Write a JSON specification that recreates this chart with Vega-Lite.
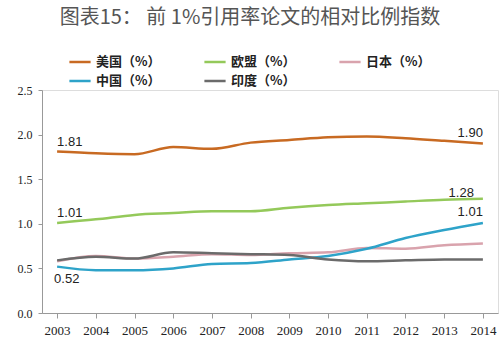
{
  "$schema": "https://vega.github.io/schema/vega-lite/v6.json",
  "autosize": {"type": "none"},
  "width": 456,
  "height": 223,
  "padding": {"left": 42, "top": 90, "right": 2, "bottom": 31},
  "background": "white",
  "title": {
    "text": "图表15：  前 1%引用率论文的相对比例指数",
    "font": "Noto Sans CJK SC",
    "fontSize": 20,
    "fontWeight": "normal",
    "color": "#555555",
    "anchor": "middle",
    "frame": "group",
    "dx": -20,
    "offset": 22
  },
  "data": {
    "values": [
      {"year": "2003", "country": "美国（%）", "value": 1.81},
      {"year": "2004", "country": "美国（%）", "value": 1.79},
      {"year": "2005", "country": "美国（%）", "value": 1.78},
      {"year": "2006", "country": "美国（%）", "value": 1.86},
      {"year": "2007", "country": "美国（%）", "value": 1.84},
      {"year": "2008", "country": "美国（%）", "value": 1.91},
      {"year": "2009", "country": "美国（%）", "value": 1.94},
      {"year": "2010", "country": "美国（%）", "value": 1.97},
      {"year": "2011", "country": "美国（%）", "value": 1.98},
      {"year": "2012", "country": "美国（%）", "value": 1.96},
      {"year": "2013", "country": "美国（%）", "value": 1.93},
      {"year": "2014", "country": "美国（%）", "value": 1.90},
      {"year": "2003", "country": "欧盟（%）", "value": 1.01},
      {"year": "2004", "country": "欧盟（%）", "value": 1.05},
      {"year": "2005", "country": "欧盟（%）", "value": 1.10},
      {"year": "2006", "country": "欧盟（%）", "value": 1.12},
      {"year": "2007", "country": "欧盟（%）", "value": 1.14},
      {"year": "2008", "country": "欧盟（%）", "value": 1.14},
      {"year": "2009", "country": "欧盟（%）", "value": 1.18},
      {"year": "2010", "country": "欧盟（%）", "value": 1.21},
      {"year": "2011", "country": "欧盟（%）", "value": 1.23},
      {"year": "2012", "country": "欧盟（%）", "value": 1.25},
      {"year": "2013", "country": "欧盟（%）", "value": 1.27},
      {"year": "2014", "country": "欧盟（%）", "value": 1.28},
      {"year": "2003", "country": "日本（%）", "value": 0.58},
      {"year": "2004", "country": "日本（%）", "value": 0.64},
      {"year": "2005", "country": "日本（%）", "value": 0.61},
      {"year": "2006", "country": "日本（%）", "value": 0.63},
      {"year": "2007", "country": "日本（%）", "value": 0.66},
      {"year": "2008", "country": "日本（%）", "value": 0.65},
      {"year": "2009", "country": "日本（%）", "value": 0.67},
      {"year": "2010", "country": "日本（%）", "value": 0.68},
      {"year": "2011", "country": "日本（%）", "value": 0.73},
      {"year": "2012", "country": "日本（%）", "value": 0.72},
      {"year": "2013", "country": "日本（%）", "value": 0.76},
      {"year": "2014", "country": "日本（%）", "value": 0.78},
      {"year": "2003", "country": "中国（%）", "value": 0.52},
      {"year": "2004", "country": "中国（%）", "value": 0.48},
      {"year": "2005", "country": "中国（%）", "value": 0.48},
      {"year": "2006", "country": "中国（%）", "value": 0.50},
      {"year": "2007", "country": "中国（%）", "value": 0.55},
      {"year": "2008", "country": "中国（%）", "value": 0.56},
      {"year": "2009", "country": "中国（%）", "value": 0.60},
      {"year": "2010", "country": "中国（%）", "value": 0.64},
      {"year": "2011", "country": "中国（%）", "value": 0.72},
      {"year": "2012", "country": "中国（%）", "value": 0.84},
      {"year": "2013", "country": "中国（%）", "value": 0.93},
      {"year": "2014", "country": "中国（%）", "value": 1.01},
      {"year": "2003", "country": "印度（%）", "value": 0.59},
      {"year": "2004", "country": "印度（%）", "value": 0.63},
      {"year": "2005", "country": "印度（%）", "value": 0.61},
      {"year": "2006", "country": "印度（%）", "value": 0.68},
      {"year": "2007", "country": "印度（%）", "value": 0.67},
      {"year": "2008", "country": "印度（%）", "value": 0.66},
      {"year": "2009", "country": "印度（%）", "value": 0.65},
      {"year": "2010", "country": "印度（%）", "value": 0.60},
      {"year": "2011", "country": "印度（%）", "value": 0.58},
      {"year": "2012", "country": "印度（%）", "value": 0.59},
      {"year": "2013", "country": "印度（%）", "value": 0.60},
      {"year": "2014", "country": "印度（%）", "value": 0.60}
    ]
  },
  "encoding": {
    "x": {
      "field": "year",
      "type": "ordinal",
      "scale": {"type": "point", "padding": 0.39},
      "axis": {
        "title": null,
        "labelAngle": 0,
        "labelFont": "Liberation Serif",
        "labelFontSize": 13,
        "labelColor": "#222222",
        "labelPadding": 6,
        "domainColor": "#999999",
        "tickColor": "#999999",
        "tickSize": 5,
        "grid": false
      }
    },
    "y": {
      "field": "value",
      "type": "quantitative",
      "scale": {"domain": [0, 2.5]},
      "axis": {
        "title": null,
        "values": [0, 0.5, 1, 1.5, 2, 2.5],
        "format": ".1f",
        "labelFont": "Liberation Serif",
        "labelFontSize": 12,
        "labelColor": "#222222",
        "labelPadding": 6,
        "domainColor": "#999999",
        "tickColor": "#999999",
        "tickSize": 4,
        "grid": false
      }
    }
  },
  "layer": [
    {
      "mark": {"type": "line", "interpolate": "monotone", "strokeWidth": 2.5},
      "encoding": {
        "color": {
          "field": "country",
          "type": "nominal",
          "scale": {
            "domain": ["美国（%）", "欧盟（%）", "日本（%）", "中国（%）", "印度（%）"],
            "range": ["#c86a22", "#94c95a", "#d9a3ad", "#2ea3c9", "#6b6b6b"]
          },
          "legend": {
            "title": null,
            "orient": "none",
            "legendX": 26,
            "legendY": -40,
            "direction": "horizontal",
            "columns": 3,
            "columnPadding": 38,
            "rowPadding": 0,
            "symbolType": "stroke",
            "symbolSize": 450,
            "symbolStrokeWidth": 2.5,
            "labelFont": "Noto Sans CJK SC",
            "labelFontWeight": "bold",
            "labelFontSize": 13,
            "labelColor": "#222222",
            "labelOffset": 4,
            "labelLimit": 200
          }
        }
      }
    },
    {
      "transform": [{"filter": "(datum.year == '2003' && (datum.country == '美国（%）' || datum.country == '欧盟（%）'))"}],
      "mark": {"type": "text", "align": "left", "dy": -10, "font": "Liberation Sans", "fontSize": 13, "color": "#222222"},
      "encoding": {"text": {"field": "value", "type": "quantitative", "format": ".2f"}}
    },
    {
      "transform": [{"filter": "(datum.year == '2014' && (datum.country == '美国（%）' || datum.country == '中国（%）'))"}],
      "mark": {"type": "text", "align": "right", "dy": -11, "font": "Liberation Sans", "fontSize": 13, "color": "#222222"},
      "encoding": {"text": {"field": "value", "type": "quantitative", "format": ".2f"}}
    },
    {
      "transform": [{"filter": "(datum.year == '2014' && datum.country == '欧盟（%）')"}],
      "mark": {"type": "text", "align": "right", "dx": -9, "dy": -6, "font": "Liberation Sans", "fontSize": 13, "color": "#222222"},
      "encoding": {"text": {"field": "value", "type": "quantitative", "format": ".2f"}}
    },
    {
      "transform": [{"filter": "(datum.year == '2003' && datum.country == '中国（%）')"}],
      "mark": {"type": "text", "align": "left", "dx": -3, "dy": 12, "font": "Liberation Sans", "fontSize": 13, "color": "#222222"},
      "encoding": {"text": {"field": "value", "type": "quantitative", "format": ".2f"}}
    }
  ]
}
